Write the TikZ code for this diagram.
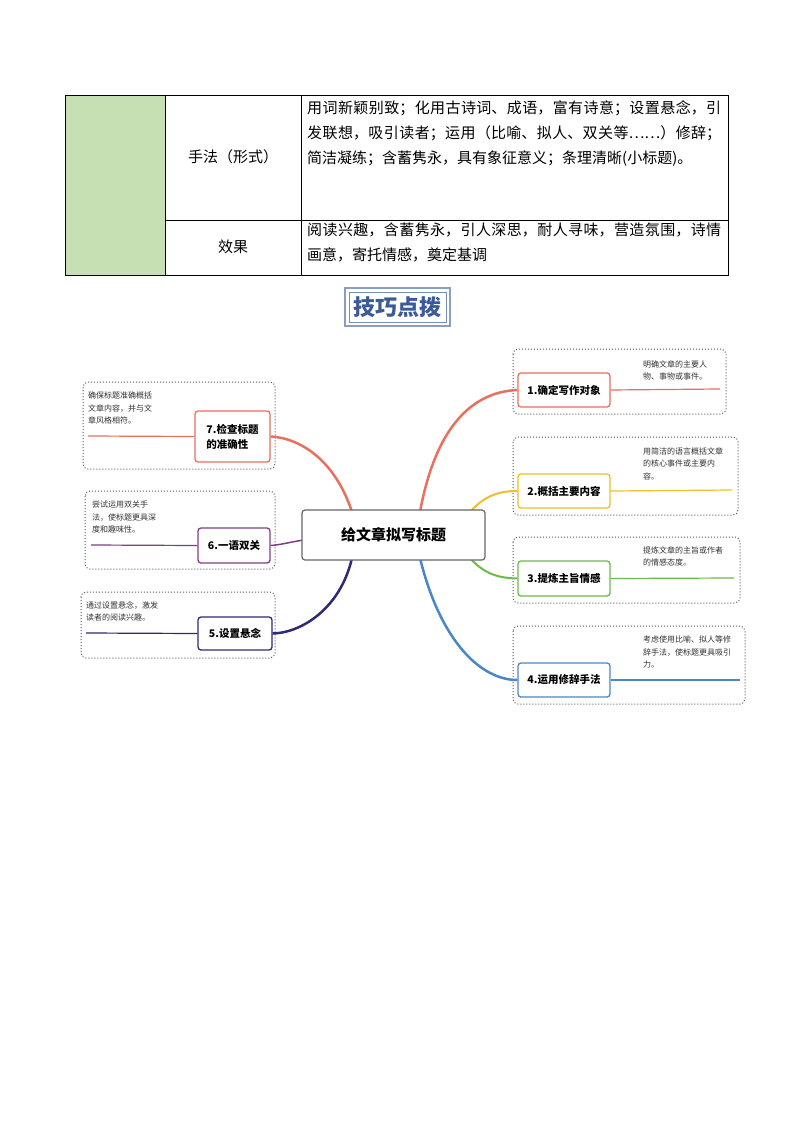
\documentclass[tikz,border=0pt]{standalone}
\usepackage{fontspec}
\setmainfont{Noto Sans CJK SC}
\XeTeXlinebreaklocale "zh"
\XeTeXlinebreakskip = 0pt plus 1pt
\definecolor{cr}{HTML}{E8705E}
\definecolor{cy}{HTML}{F0BE2E}
\definecolor{cg}{HTML}{6CBB4A}
\definecolor{cb}{HTML}{4A86C8}
\definecolor{cp}{HTML}{7E3F84}
\definecolor{cn}{HTML}{2E2A74}
\definecolor{tg}{HTML}{C6E0B4}
\definecolor{tb}{HTML}{3A5A9A}
\tikzset{
 frame/.style={draw=gray!70!black,dotted,line width=1pt,rounded corners=5pt},
 topic/.style={draw=#1,line width=1.3pt,rounded corners=3pt,fill=white,font=\bfseries\fontsize{10.5}{15}\selectfont,align=left,inner sep=0pt},
 note/.style={font=\fontsize{8}{12.5}\selectfont,align=left,anchor=north west,inner sep=0pt,text=black!80},
 br/.style={draw=#1,line width=2.5pt},
 cell/.style={font=\fontsize{15}{25}\selectfont,align=justify,anchor=north west,inner sep=0pt}
}
\begin{document}
\begin{tikzpicture}[x=1pt,y=-1pt]
\useasboundingbox[fill=white] (0,0) rectangle (794,1123);
% table
\fill[tg] (65,95) rectangle (165,275);
\draw[line width=0.6pt] (65,95) rectangle (728,275);
\draw[line width=0.6pt] (165,95) -- (165,275) (301,95) -- (301,275) (165,220) -- (728,220);
\node[font=\fontsize{15}{18}\selectfont,inner sep=0pt] (t1) at (233,157) {手法（形式）};
\node[font=\fontsize{15}{18}\selectfont,inner sep=0pt] (t2) at (233,247) {效果};
\node[cell,text width=414pt] (c1) at (307,100) {用词新颖别致；化用古诗词、成语，富有诗意；设置悬念，引发联想，吸引读者；运用（比喻、拟人、双关等……）修辞；简洁凝练；含蓄隽永，具有象征意义；条理清晰(小标题)。};
\node[cell,text width=414pt] (c2) at (307,223) {阅读兴趣，含蓄隽永，引人深思，耐人寻味，营造氛围，诗情画意，寄托情感，奠定基调};
% title
\draw[draw=tb!60,line width=2.5pt] (345,288) rectangle (450,326);
\draw[draw=tb!70,line width=0.6pt] (349,292) rectangle (446,322);
\node[text=tb,font=\bfseries\fontsize{22}{24}\selectfont] (title) at (397.5,307) {技巧点拨};
% frames
\draw[frame] (513,349) rectangle (726,414);
\draw[frame] (513,437) rectangle (738,515);
\draw[frame] (513,537) rectangle (740,603);
\draw[frame] (513,626) rectangle (745,704);
\draw[frame] (83,382) rectangle (275,469);
\draw[frame] (85,491) rectangle (275,569);
\draw[frame] (81,592) rectangle (275,658);
% coordinates
\coordinate (r1) at (420,512); \coordinate (r2) at (470,512);
\coordinate (r3) at (470,558); \coordinate (r4) at (420,558);
\coordinate (l7) at (352,512); \coordinate (l6) at (304,540); \coordinate (l5) at (352,558);
% topic nodes
\node[topic=cr,minimum width=92pt,minimum height=34pt] (n1) at (564,390) {1.确定写作对象};
\node[topic=cy,minimum width=92pt,minimum height=34pt] (n2) at (564,491) {2.概括主要内容};
\node[topic=cg,minimum width=92pt,minimum height=35pt] (n3) at (564,578.5) {3.提炼主旨情感};
\node[topic=cb,minimum width=92pt,minimum height=34pt] (n4) at (564,680) {4.运用修辞手法};
\node[topic=cr,minimum width=75pt,minimum height=51pt,align=left] (n7) at (232.5,436.5) {7.检查标题\\的准确性};
\node[topic=cp,minimum width=72pt,minimum height=35pt] (n6) at (234,545.5) {6.一语双关};
\node[topic=cn,minimum width=74pt,minimum height=33pt] (n5) at (235,633.5) {5.设置悬念};
% branches
\draw[br=cr] (r1) .. controls (435,430) and (470,392) .. (n1.west);
\draw[br=cy,line width=2pt] (r2) .. controls (485,495) and (500,491) .. (n2.west);
\draw[br=cg,line width=2pt] (r3) .. controls (485,575) and (500,578) .. (n3.west);
\draw[br=cb] (r4) .. controls (440,640) and (480,680) .. (n4.west);
\draw[br=cr] (l7) .. controls (335,460) and (300,438) .. (n7.east);
\draw[br=cp,line width=1.5pt] (l6) .. controls (290,542) and (280,545) .. (n6.east);
\draw[br=cn] (l5) .. controls (340,610) and (300,633) .. (n5.east);
% center
\node[draw=gray!80!black,line width=1.2pt,rounded corners=3pt,minimum width=183pt,minimum height=50pt,font=\bfseries\fontsize{15}{18}\selectfont,fill=white] (c) at (393.5,535) {给文章拟写标题};
% note lines
\coordinate (e1) at (720,389); \coordinate (e2) at (732,490); \coordinate (e3) at (734,578); \coordinate (e4) at (740,680);
\coordinate (e7) at (88,436); \coordinate (e6) at (91,545); \coordinate (e5) at (86,633);
\draw[cr,line width=1.2pt] (n1.east) -- (e1);
\draw[cy,line width=1.2pt] (n2.east) -- (e2);
\draw[cg,line width=1.2pt] (n3.east) -- (e3);
\draw[cb,line width=1.2pt] (n4.east) -- (e4);
\draw[cr,line width=1.2pt] (n7.west) -- (e7);
\draw[cp,line width=1.2pt] (n6.west) -- (e6);
\draw[cn,line width=1.2pt] (n5.west) -- (e5);
% notes
\node[note] (m1) at (643,360) {明确文章的主要人\\物、事物或事件。};
\node[note] (m2) at (643,447) {用简洁的语言概括文章\\的核心事件或主要内\\容。};
\node[note] (m3) at (643,546) {提炼文章的主旨或作者\\的情感态度。};
\node[note] (m4) at (643,636) {考虑使用比喻、拟人等修\\辞手法，使标题更具吸引\\力。};
\node[note] (m7) at (88,392) {确保标题准确概括\\文章内容，并与文\\章风格相符。};
\node[note] (m6) at (92,501) {尝试运用双关手\\法，使标题更具深\\度和趣味性。};
\node[note] (m5) at (86,601) {通过设置悬念，激发\\读者的阅读兴趣。};
\end{tikzpicture}
\end{document}
